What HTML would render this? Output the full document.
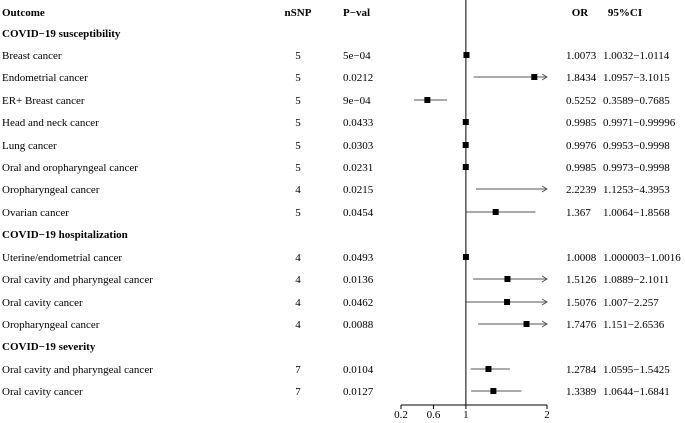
<!DOCTYPE html>
<html><head><meta charset="utf-8"><style>
body{margin:0;background:#fff}
svg text{font-family:"Liberation Serif",serif;font-size:11px;fill:#000}
.b{font-weight:bold}
</style></head><body>
<svg id="chart" width="685" height="418">
<g id="g"></g>
</svg>
<script>
const labels=["Breast cancer","Endometrial cancer","ER+ Breast cancer","Head and neck cancer","Lung cancer","Oral and oropharyngeal cancer","Oropharyngeal cancer","Ovarian cancer","Uterine/endometrial cancer","Oral cavity and pharyngeal cancer","Oral cavity cancer","Oropharyngeal cancer","Oral cavity and pharyngeal cancer","Oral cavity cancer"];
const rowsY=[55,77,100,122,145,167,189,212,257,279,302,324,369,391];
const nsnp=[5,5,5,5,5,5,4,5,4,4,4,4,7,7];
const pvals=["5e\u221204","0.0212","9e\u221204","0.0433","0.0303","0.0231","0.0215","0.0454","0.0493","0.0136","0.0462","0.0088","0.0104","0.0127"];
const orv=[1.0073,1.8434,0.5252,0.9985,0.9976,0.9985,2.2239,1.367,1.0008,1.5126,1.5076,1.7476,1.2784,1.3389];
const lo=[1.0032,1.0957,0.3589,0.9971,0.9953,0.9973,1.1253,1.0064,1.000003,1.0889,1.007,1.151,1.0595,1.0644];
const hi=[1.0114,3.1015,0.7685,0.99996,0.9998,0.9998,4.3953,1.8568,1.0016,2.1011,2.257,2.6536,1.5425,1.6841];
const orTxt=["1.0073","1.8434","0.5252","0.9985","0.9976","0.9985","2.2239","1.367","1.0008","1.5126","1.5076","1.7476","1.2784","1.3389"];
const ciTxt=["1.0032\u22121.0114","1.0957\u22123.1015","0.3589\u22120.7685","0.9971\u22120.99996","0.9953\u22120.9998","0.9973\u22120.9998","1.1253\u22124.3953","1.0064\u22121.8568","1.000003\u22121.0016","1.0889\u22122.1011","1.007\u22122.257","1.151\u22122.6536","1.0595\u22121.5425","1.0644\u22121.6841"];
const groups=["COVID\u221219 susceptibility","COVID\u221219 hospitalization","COVID\u221219 severity"];
const groupY=[33,234,346];
const ticks=[0.2,0.6,1,2];
const tickLabels=["0.2","0.6","1","2"];
const XMIN=0.2,XMAX=2;
const x=v=>401+(v-0.2)*(547-401)/(XMAX-XMIN);
const g=document.getElementById('g');
const NS='http://www.w3.org/2000/svg';
function mk(t,a,txt){const e=document.createElementNS(NS,t);for(const k in a)e.setAttribute(k,a[k]);if(txt!=null)e.textContent=txt;g.appendChild(e);return e;}
let e;
e=mk('text',{x:2,y:16,class:'b'},'Outcome');


e=mk('text',{x:298,y:16,class:'b','text-anchor':'middle'},'nSNP');


e=mk('text',{x:343,y:16,class:'b'},'P\u2212val');


e=mk('text',{x:580,y:16,class:'b','text-anchor':'middle'},'OR');


e=mk('text',{x:625,y:16,class:'b','text-anchor':'middle'},'95%CI');


groups.forEach((s,i)=>{
 e=mk('text',{x:2,y:groupY[i]+4,class:'b'},s);
 
 
});
e=mk('line',{x1:x(1),x2:x(1),y1:0,y2:405,stroke:'#000','stroke-width':1});


e=mk('line',{x1:x(XMIN),x2:x(XMAX),y1:405,y2:405,stroke:'#000','stroke-width':1});


ticks.forEach((t,i)=>{
 e=mk('line',{x1:x(t),x2:x(t),y1:405,y2:409,stroke:'#000'});
 
 
 e=mk('text',{x:x(t),y:418,'text-anchor':'middle'},tickLabels[i]);
 
 
});
labels.forEach((l,i)=>{
 const y=rowsY[i];
 e=mk('text',{x:2,y:y+4},l);
 
 
 e=mk('text',{x:298,y:y+4,'text-anchor':'middle'},String(nsnp[i]));
 
 
 e=mk('text',{x:343,y:y+4},pvals[i]);
 
 
 e=mk('text',{x:566,y:y+4},orTxt[i]);
 
 
 e=mk('text',{x:603,y:y+4},ciTxt[i]);
 
 
 const l0=Math.max(lo[i],XMIN),h0=Math.min(hi[i],XMAX);
 e=mk('line',{x1:x(l0),x2:x(h0),y1:y,y2:y,stroke:'#555','stroke-width':1});
 
 
 if(hi[i]>XMAX){
  e=mk('path',{d:`M${x(XMAX)-5},${y-3} L${x(XMAX)},${y} L${x(XMAX)-5},${y+3}`,fill:'none',stroke:'#555'});
  
  
 }
 if(orv[i]<=XMAX&&orv[i]>=XMIN){
  e=mk('rect',{x:x(orv[i])-3,y:y-3,width:6,height:6,fill:'#000'});
  
  
 }
});
</script>
</body></html>
